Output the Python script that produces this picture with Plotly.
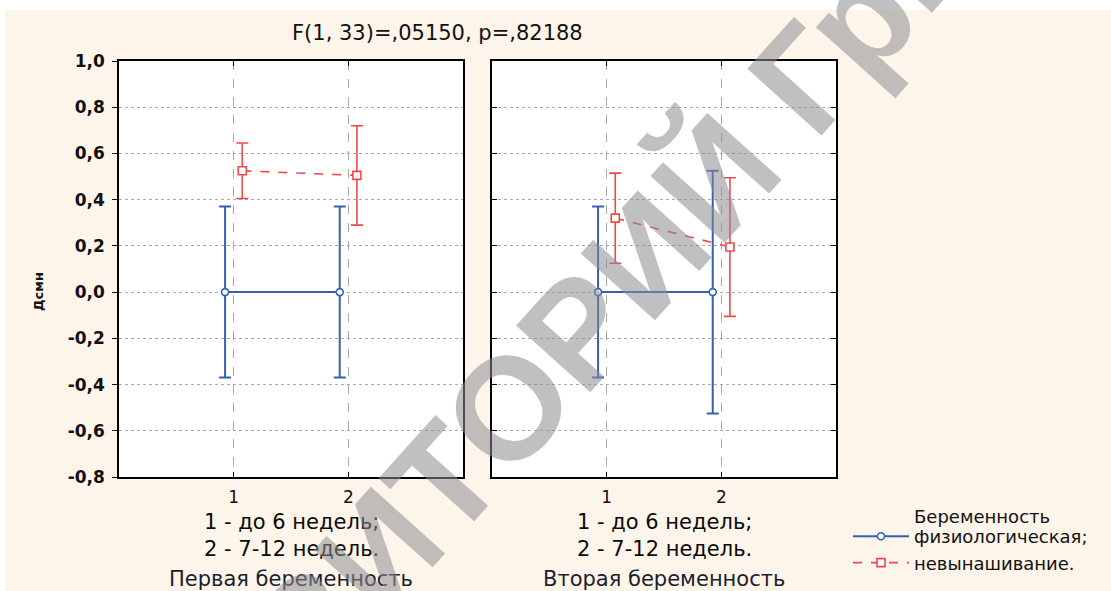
import plotly.graph_objects as go

# ---------------- data ----------------
categories = [1, 2]
x_tick_labels = ["1", "2"]
y_tick_values = [1.0, 0.8, 0.6, 0.4, 0.2, 0.0, -0.2, -0.4, -0.6, -0.8]
y_tick_labels = ["1,0", "0,8", "0,6", "0,4", "0,2", "0,0", "-0,2", "-0,4", "-0,6", "-0,8"]

series_names = ["физиологическая;", "невынашивание."]

# Первая беременность
p1_phys_mean = [0.0, 0.0]
p1_phys_err = [0.37, 0.37]
p1_misc_mean = [0.525, 0.505]
p1_misc_err = [0.12, 0.215]

# Вторая беременность
p2_phys_mean = [0.0, 0.0]
p2_phys_err = [0.37, 0.525]
p2_misc_mean = [0.32, 0.195]
p2_misc_err = [0.195, 0.30]

panel_titles = ["Первая беременность", "Вторая беременность"]
x_axis_note = "1 - до 6 недель;<br>2 - 7-12 недель."
title_text = "F(1, 33)=,05150, p=,82188"
y_title = "Дсмн"
legend_title = "Беременность"
watermark = "РЕПОЗИТОРИЙ ГрГУ"

# ---------------- style ----------------
W, H = 1111, 591
T, B = 61, 114
BLUE = "#3560B4"
RED = "#F04848"
BEIGE = "#FDF5E9"
FONT = "DejaVu Sans"
offset = 0.075


def px_x(px):
    return px / W


def px_y(py):
    return (H - B - py) / (H - T - B)


fig = go.Figure()


def add_panel(xref, yref, phys_mean, phys_err, misc_mean, misc_err, show):
    xs_b = [c - offset for c in categories]
    xs_r = [c + offset for c in categories]
    fig.add_trace(go.Scatter(
        x=xs_b, y=phys_mean, xaxis=xref, yaxis=yref,
        mode="lines+markers", name=series_names[0], legendgroup="a",
        showlegend=show,
        line=dict(color=BLUE, width=2),
        marker=dict(symbol="circle", size=7, color="white",
                    line=dict(color=BLUE, width=1.6)),
        error_y=dict(type="data", array=phys_err, visible=True,
                     color=BLUE, thickness=2, width=6),
    ))
    fig.add_trace(go.Scatter(
        x=xs_r, y=misc_mean, xaxis=xref, yaxis=yref,
        mode="lines+markers", name=series_names[1], legendgroup="b",
        showlegend=show,
        line=dict(color=RED, width=1.6, dash="dash"),
        marker=dict(symbol="square", size=8, color="white",
                    line=dict(color=RED, width=1.6)),
        error_y=dict(type="data", array=misc_err, visible=True,
                     color=RED, thickness=1.6, width=6),
    ))


add_panel("x", "y", p1_phys_mean, p1_phys_err, p1_misc_mean, p1_misc_err, True)
add_panel("x2", "y2", p2_phys_mean, p2_phys_err, p2_misc_mean, p2_misc_err, False)

xaxis_common = dict(
    range=[0, 3], tickmode="array", tickvals=categories, ticktext=x_tick_labels,
    ticks="inside", ticklen=5, tickcolor="black", tickwidth=1.2,
    showline=True, linecolor="black", linewidth=1.6, mirror="ticks",
    showgrid=True, gridcolor="#A9A9A9", gridwidth=1, griddash="dash",
    zeroline=False, fixedrange=True,
    tickfont=dict(family=FONT, size=17, color="#111"),
    ticklabelstandoff=4,
)
yaxis_base = dict(
    range=[-0.8, 1.0], tickmode="array", tickvals=y_tick_values, ticktext=y_tick_labels,
    ticklen=5, tickcolor="black", tickwidth=1.2,
    showline=True, linecolor="black", linewidth=1.6,
    showgrid=True, gridcolor="#A9A9A9", gridwidth=1, griddash="dot",
    zeroline=False, fixedrange=True,
)

fig.update_layout(
    width=W, height=H,
    margin=dict(l=0, r=0, t=T, b=B),
    paper_bgcolor=BEIGE, plot_bgcolor="white",
    xaxis=dict(domain=[px_x(119), px_x(463)], anchor="y", **xaxis_common),
    xaxis2=dict(domain=[px_x(492), px_x(836)], anchor="y2", **xaxis_common),
    yaxis=dict(domain=[0, 1], anchor="x", ticks="outside", mirror=True,
               tickfont=dict(family=FONT, size=17, color="#111", weight="bold"),
               ticklabelstandoff=4, **yaxis_base),
    yaxis2=dict(domain=[0, 1], anchor="x2", ticks="inside", mirror="ticks",
                showticklabels=False, **yaxis_base),
    yaxis3=dict(overlaying="y", side="right", anchor="x", ticks="inside",
                showticklabels=False, range=[-0.8, 1.0], tickmode="array",
                tickvals=y_tick_values, ticklen=5, tickcolor="black", tickwidth=1.2,
                showgrid=False, zeroline=False, showline=False, fixedrange=True),
    showlegend=True,
    legend=dict(
        x=px_x(848), y=px_y(518), xanchor="left", yanchor="top",
        bgcolor="rgba(0,0,0,0)", borderwidth=0,
        font=dict(family=FONT, size=18, color="#111"),
        tracegroupgap=0, itemwidth=56,
    ),
    font=dict(family=FONT),
)


def ann(text, cx, cy, size, **kw):
    d = dict(text=text, x=px_x(cx), y=px_y(cy), xref="paper", yref="paper",
             showarrow=False, xanchor=kw.pop("xanchor", "center"), yanchor="middle",
             font=dict(family=FONT, size=size, color=kw.pop("color", "#111"),
                       weight=kw.pop("weight", "normal")))
    d.update(kw)
    return d


annotations = [
    ann(title_text, 437, 33, 21),
    ann(y_title, 38, 292, 13, textangle=-90, weight="bold"),
    ann(legend_title, 912, 516, 18, xanchor="left"),
]
for cx, ptitle in zip([291, 664], panel_titles):
    annotations.append(ann(x_axis_note, cx, 535, 21, align="center", color="#0a0a0a"))
    annotations.append(ann(ptitle, cx, 579, 21, color="#1a1f2e"))

annotations.append(dict(text=watermark, x=px_x(507), y=px_y(410), xref="paper", yref="paper",
                        showarrow=False, textangle=-48, xanchor="center", yanchor="middle",
                        font=dict(family="Liberation Sans", size=145, color="rgba(140,140,145,0.55)",
                                  weight="bold")))
fig.update_layout(annotations=annotations)

fig.update_layout(shapes=[
    dict(type="rect", xref="paper", yref="paper", x0=-0.01, x1=1.01,
         y0=px_y(10), y1=px_y(-5), fillcolor="white", line=dict(width=0), layer="below"),
    dict(type="rect", xref="paper", yref="paper", x0=-0.01, x1=px_x(5),
         y0=px_y(600), y1=px_y(-5), fillcolor="white", line=dict(width=0), layer="below"),
])

fig.write_html("out.html", post_script="document.body.style.margin='0px';",
               config={"displayModeBar": False})
